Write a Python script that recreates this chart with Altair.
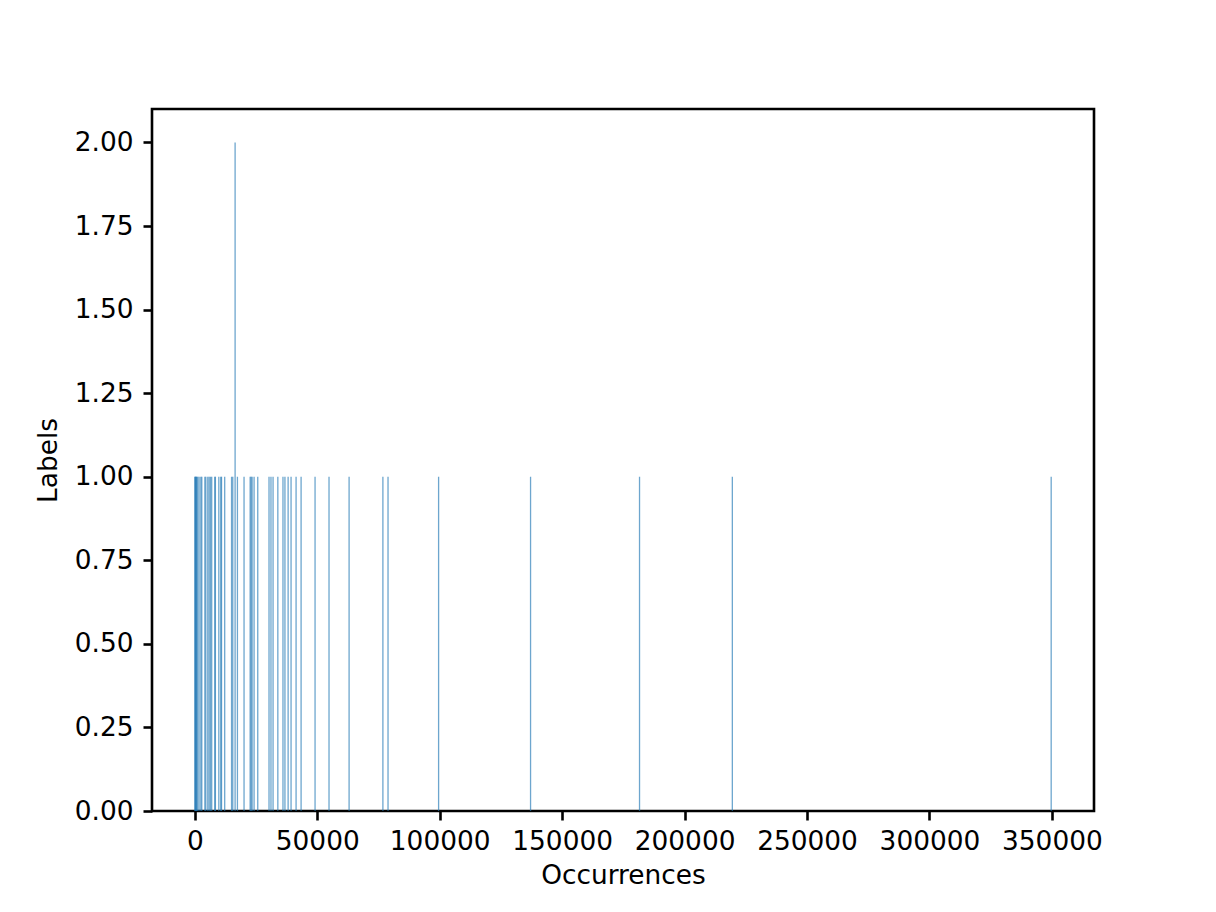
import altair as alt
import pandas as pd

occurrences = [0, 200, 400, 600, 800, 1200, 1750, 2450, 2850, 4100, 4500, 5300, 5850,
               6400, 6900, 8150, 8400, 9800, 10600, 10900, 12200, 15000, 15500, 16450,
               17400, 20100, 22600, 23000, 23400, 24200, 25700, 30300, 31100, 31950,
               33900, 36000, 36800, 38100, 39300, 41350, 43400, 49100, 54800, 63000,
               76800, 78900, 99550, 137100, 181600, 219500, 349700]
labels = [1] * len(occurrences)
labels[occurrences.index(16450)] = 2

x_ticks = [0, 50000, 100000, 150000, 200000, 250000, 300000, 350000]
y_ticks = [0, 0.25, 0.5, 0.75, 1.0, 1.25, 1.5, 1.75, 2.0]

df = pd.DataFrame({"Occurrences": occurrences, "Labels": labels})

span = max(occurrences) - min(occurrences)
x_dom = [min(occurrences) - 0.05 * span, max(occurrences) + 0.05 * span]

FONT = "DejaVu Sans"

chart = alt.Chart(df).mark_rule(color="#1f77b4", strokeWidth=1.3, opacity=0.65).encode(
    x=alt.X("Occurrences:Q",
            scale=alt.Scale(domain=x_dom, nice=False, zero=False),
            axis=alt.Axis(values=x_ticks, format="d", title="Occurrences",
                          labelPadding=8, titlePadding=8)),
    y=alt.Y("Labels:Q",
            scale=alt.Scale(domain=[0, 2.1], nice=False),
            axis=alt.Axis(values=y_ticks, format=".2f", title="Labels",
                          labelPadding=10, titlePadding=12)),
    y2=alt.datum(0),
).properties(
    width=942, height=702,
    autosize=alt.AutoSizeParams(type="none"),
    padding={"left": 144, "top": 101, "right": 114, "bottom": 95},
).configure_view(
    stroke="black", strokeWidth=2.6
).configure_axis(
    grid=False, domain=False,
    tickColor="black", tickWidth=2.6, tickSize=9,
    labelFont=FONT, labelFontSize=26.4, labelColor="black",
    titleFont=FONT, titleFontSize=26.4, titleColor="black", titleFontWeight="normal",
)

chart.save("out.html", embed_options={"renderer": "svg", "actions": False})
